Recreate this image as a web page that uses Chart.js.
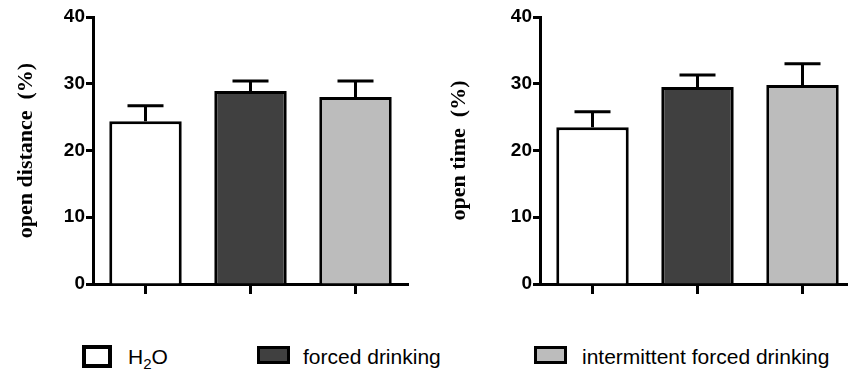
<!DOCTYPE html>
<html>
<head>
<meta charset="utf-8">
<script src="https://cdn.jsdelivr.net/npm/chart.js@4.4.1/dist/chart.umd.min.js"></script>
<style>
  body { margin: 0; width: 848px; height: 374px; overflow: hidden; background: #fff; position: relative; }
  canvas { position: absolute; top: 0; }
  #distChart { left: 0; }
  #timeChart { left: 420px; }
  .legend-box { position: absolute; box-sizing: border-box; border: 3px solid #000; }
  .legend-text { position: absolute; top: 345px; line-height: 21px; font: 21px "Liberation Sans", Arial, sans-serif; color: #000; white-space: nowrap; }
  .legend-text sub { font-size: 15px; vertical-align: -5px; line-height: 0; }
</style>
</head>
<body>
<canvas id="distChart" width="420" height="300"></canvas>
<canvas id="timeChart" width="435" height="300"></canvas>
<div id="legend"></div>
<script>
// groups
const groups = ['H₂O', 'forced drinking', 'intermittent forced drinking'];
const groupColors = ['#ffffff', '#404040', '#bcbcbc'];

// open distance (%)
const distMeans = [24.4, 28.9, 28.0];
const distSem = [2.3, 1.5, 2.4];

// open time (%)
const timeMeans = [23.5, 29.5, 29.8];
const timeSem = [2.3, 1.8, 3.2];

const yTicks = [0, 10, 20, 30, 40];

// draws the SEM whisker above every bar
const errorBars = {
    id: 'errorBars',
    afterDatasetsDraw(chart) {
        const ctx = chart.ctx;
        const yScale = chart.scales.y;
        chart.data.datasets.forEach((ds, di) => {
            chart.getDatasetMeta(di).data.forEach((bar, i) => {
                const yTop = yScale.getPixelForValue(ds.data[i] + ds.errors[i]);
                ctx.save();
                ctx.strokeStyle = '#000';
                ctx.lineWidth = 3;
                ctx.beginPath();
                ctx.moveTo(bar.x, bar.y);
                ctx.lineTo(bar.x, yTop);
                ctx.moveTo(bar.x - 18, yTop);
                ctx.lineTo(bar.x + 18, yTop);
                ctx.stroke();
                ctx.restore();
            });
        });
    }
};

function render_panel(canvasId, means, sems, yLabel, yAxisWidth, titlePad, rightPad) {
    const ctx = document.getElementById(canvasId).getContext('2d');
    return new Chart(ctx, {
        type: 'bar',
        data: {
            labels: groups,
            datasets: [{
                data: means,
                errors: sems,
                backgroundColor: groupColors,
                borderColor: '#000',
                borderWidth: 3,
                categoryPercentage: 1,
                barPercentage: 0.69,
            }],
        },
        options: {
            responsive: false,
            animation: false,
            layout: { padding: { top: 17, right: rightPad, bottom: 0, left: 0 } },
            scales: {
                x: {
                    z: 1,
                    ticks: { display: false },
                    grid: {
                        offset: false,
                        drawOnChartArea: false,
                        drawTicks: true,
                        tickLength: 10,
                        tickWidth: 3,
                        tickColor: '#000',
                    },
                    border: { color: '#000', width: 3 },
                    afterFit: (scale) => { scale.height = 16; },
                },
                y: {
                    min: 0,
                    max: 40,
                    afterBuildTicks: (scale) => { scale.ticks = yTicks.map(v => ({ value: v })); },
                    ticks: {
                        padding: 1,
                        color: '#000',
                        font: { family: '"Liberation Sans", Arial, sans-serif', size: 19, weight: 'bold' },
                    },
                    grid: {
                        drawOnChartArea: false,
                        drawTicks: true,
                        tickLength: 7,
                        tickWidth: 3,
                        tickColor: '#000',
                    },
                    border: { color: '#000', width: 3 },
                    title: {
                        display: true,
                        text: yLabel,
                        color: '#000',
                        padding: { top: titlePad, bottom: 0 },
                        font: { family: '"Liberation Serif", "Times New Roman", serif', size: 22, weight: 'bold' },
                    },
                    afterFit: (scale) => { scale.width = yAxisWidth; },
                },
            },
            plugins: {
                legend: { display: false },
                title: { display: false },
                tooltip: { enabled: false },
            },
        },
        plugins: [errorBars],
    });
}

render_panel('distChart', distMeans, distSem, 'open distance  (%)', 93, 13, 12);
render_panel('timeChart', timeMeans, timeSem, 'open time  (%)', 120, 26, 0);

// shared legend under both panels
const legendBoxes = [
    { left: 82, top: 345, w: 30, h: 23, b: 4 },
    { left: 257, top: 346, w: 33, h: 18, b: 3 },
    { left: 534, top: 346, w: 33, h: 18, b: 3 },
];
const legendTextLeft = [128, 303, 582];
const legend = document.getElementById('legend');
groups.forEach((g, i) => {
    const box = document.createElement('div');
    const lb = legendBoxes[i];
    box.className = 'legend-box';
    box.style.left = lb.left + 'px';
    box.style.top = lb.top + 'px';
    box.style.width = lb.w + 'px';
    box.style.height = lb.h + 'px';
    box.style.borderWidth = lb.b + 'px';
    box.style.background = groupColors[i];
    legend.appendChild(box);

    const txt = document.createElement('div');
    txt.className = 'legend-text';
    txt.style.left = legendTextLeft[i] + 'px';
    txt.innerHTML = g.replace('₂', '<sub>2</sub>');
    legend.appendChild(txt);
});
</script>
</body>
</html>
